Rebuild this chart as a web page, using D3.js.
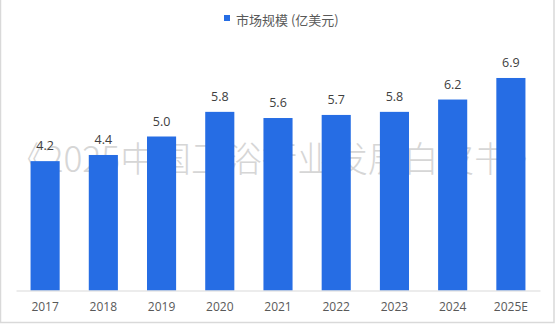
<!DOCTYPE html>
<html>
<head>
<meta charset="utf-8">
<script src="https://cdn.jsdelivr.net/npm/d3@7/dist/d3.min.js"></script>
<style>
  html, body { margin: 0; padding: 0; background: #fff; }
  svg { display: block; font-family: "Microsoft YaHei", "Noto Sans CJK SC", "Open Sans", sans-serif; }
</style>
</head>
<body>
<script>
// Market size by year (100 million USD)
const years = ["2017", "2018", "2019", "2020", "2021", "2022", "2023", "2024", "2025E"];
const marketSize = [4.2, 4.4, 5.0, 5.8, 5.6, 5.7, 5.8, 6.2, 6.9];
const seriesName = "市场规模 (亿美元)";
const watermark = "《2025中国卫浴行业发展白皮书》";

const W = 555, H = 324;
const svg = d3.select("body").append("svg").attr("width", W).attr("height", H);

// outer frame
svg.append("rect").attr("x", 0.5).attr("y", -1).attr("width", W - 1.5).attr("height", H - 0.5)
  .attr("fill", "#fff").attr("stroke", "#d9d9d9").attr("stroke-width", 1.5);

const x = d3.scaleBand().domain(years).range([16, 540]).paddingInner(0.5).paddingOuter(0.25);
const y = d3.scaleLinear().domain([0, 8]).range([290.5, 44.1]);

// watermark behind the bars, sized to span the plot width
const wm = svg.append("text")
  .attr("x", 277).attr("y", 171.5)
  .attr("text-anchor", "middle")
  .attr("font-family", "\"Noto Sans CJK SC\", sans-serif")
  .attr("font-size", 35).attr("font-weight", 300).attr("fill", "#d6d6d6")
  .text(watermark);
const wmLen = wm.node().getComputedTextLength();
wm.attr("font-size", 35 * 536 / wmLen);

// bars
svg.append("g").selectAll("rect").data(years).join("rect")
  .attr("x", d => x(d))
  .attr("width", x.bandwidth())
  .attr("y", (d, i) => y(marketSize[i]))
  .attr("height", (d, i) => y(0) - y(marketSize[i]))
  .attr("fill", "#266de4");

// value labels
svg.append("g").selectAll("text").data(years).join("text")
  .attr("x", d => x(d) + x.bandwidth() / 2)
  .attr("y", (d, i) => y(marketSize[i]) - 11)
  .attr("text-anchor", "middle")
  .attr("font-family", "\"Open Sans\", sans-serif")
  .attr("font-size", 12.5).attr("fill", "#404040")
  .text((d, i) => marketSize[i].toFixed(1));

// category axis
const axis = svg.append("g").attr("transform", `translate(0,${y(0)})`)
  .call(d3.axisBottom(x).tickSize(0).tickPadding(12));
axis.select(".domain").attr("stroke", "#d9d9d9").attr("stroke-width", 1);
axis.selectAll("text").attr("font-size", 12).attr("fill", "#595959")
  .attr("font-family", "\"Open Sans\", sans-serif");

// legend
svg.append("rect").attr("x", 224).attr("y", 15).attr("width", 6).attr("height", 6).attr("fill", "#266de4");
svg.append("text").attr("x", 236).attr("y", 24.5).attr("font-size", 13).attr("fill", "#595959").text(seriesName);
</script>
</body>
</html>
